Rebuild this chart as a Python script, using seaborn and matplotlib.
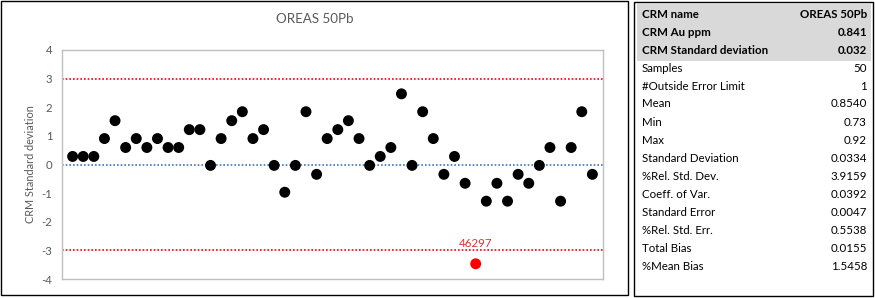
import matplotlib
matplotlib.use("Agg")
import matplotlib.pyplot as plt
import seaborn as sns
import pandas as pd
import numpy as np
from matplotlib.patches import Rectangle

# ---- data ----
crm_name = "OREAS 50Pb"
crm_value = 0.841
crm_sd = 0.032
assays = [0.85, 0.85, 0.85, 0.87, 0.89, 0.86, 0.87, 0.86, 0.87, 0.86,
          0.86, 0.88, 0.88, 0.84, 0.87, 0.89, 0.90, 0.87, 0.88, 0.84,
          0.81, 0.84, 0.90, 0.83, 0.87, 0.88, 0.89, 0.87, 0.84, 0.85,
          0.86, 0.92, 0.84, 0.90, 0.87, 0.83, 0.85, 0.82, 0.73, 0.80,
          0.82, 0.80, 0.83, 0.82, 0.84, 0.86, 0.80, 0.86, 0.90, 0.83]
outlier_label = "46297"
yticks = [-4, -3, -2, -1, 0, 1, 2, 3, 4]
table_labels = ["CRM name", "CRM Au ppm", "CRM Standard deviation", "Samples",
                "#Outside Error Limit", "Mean", "Min", "Max", "Standard Deviation",
                "%Rel. Std. Dev.", "Coeff. of Var.", "Standard Error",
                "%Rel. Std. Err.", "Total Bias", "%Mean Bias"]
table_values = ["OREAS 50Pb", "0.841", "0.032", "50", "1", "0.8540", "0.73", "0.92",
                "0.0334", "3.9159", "0.0392", "0.0047", "0.5538", "0.0155", "1.5458"]

z = [(a - crm_value) / crm_sd for a in assays]
df = pd.DataFrame({"idx": np.arange(1, len(z) + 1), "z": z})
df["out"] = df["z"].abs() > 3

sns.set_theme(style="white")
plt.rcParams["font.family"] = ["Lato", "DejaVu Sans"]

W, H = 875, 298
fig = plt.figure(figsize=(W / 100, H / 100), dpi=100)

def fx(px):
    return px / W

def fy(py):
    return 1 - py / H

ax = fig.add_axes([fx(62), fy(279), fx(603) - fx(62), fy(50) - fy(279)])
sns.scatterplot(data=df, x="idx", y="z", hue="out",
                palette={False: "black", True: "red"},
                s=62, edgecolor="none", legend=False, ax=ax, zorder=3)
ax.axhline(3, color="#ff0000", linestyle=(0, (1, 1.2)), linewidth=1.2, zorder=2)
ax.axhline(-3, color="#ff0000", linestyle=(0, (1, 1.2)), linewidth=1.2, zorder=2)
ax.axhline(0, color="#4472c4", linestyle=(0, (1, 1.2)), linewidth=1.2, zorder=2)

for _, r in df[df["out"]].iterrows():
    ax.annotate(outlier_label, (r["idx"], r["z"]), xytext=(0, 11),
                textcoords="offset points", ha="center", va="bottom",
                color="#e03030", fontsize=8.3)

ax.set_xlim(0, 51)
ax.set_ylim(-4, 4)
ax.set_xticks([])
ax.set_yticks(yticks)
ax.set_yticklabels([str(t) for t in yticks])
ax.tick_params(axis="y", length=0, pad=7, labelsize=8.2, labelcolor="#595959")
ax.set_xlabel("")
ax.set_ylabel("CRM Standard deviation", fontsize=7.8, color="#595959", labelpad=4)
for sp in ax.spines.values():
    sp.set_color("#bfbfbf")
    sp.set_linewidth(1.0)

fig.text(fx(315), fy(19), crm_name, ha="center", va="center",
         fontsize=9.6, color="#595959")

# outer borders
fig.patches.append(Rectangle((fx(1), fy(295)), fx(628) - fx(1), fy(1) - fy(295),
                             transform=fig.transFigure, fill=False,
                             edgecolor="black", linewidth=1.0))
fig.patches.append(Rectangle((fx(634), fy(296)), fx(873) - fx(634), fy(2) - fy(296),
                             transform=fig.transFigure, fill=False,
                             edgecolor="black", linewidth=1.0))
fig.patches.append(Rectangle((fx(637), fy(61)), fx(871) - fx(637), fy(4) - fy(61),
                             transform=fig.transFigure, facecolor="#d9d9d9",
                             edgecolor="none"))

row0, step = 14, 18.0
for i, (lab, val) in enumerate(zip(table_labels, table_values)):
    yy = fy(row0 + i * step)
    w = "bold" if i < 3 else "normal"
    fig.text(fx(642), yy, lab, ha="left", va="center", fontsize=8.3,
             fontweight=w, color="black")
    fig.text(fx(867), yy, val, ha="right", va="center", fontsize=8.3,
             fontweight=w, color="black")

fig.savefig("out.png", dpi=100)
